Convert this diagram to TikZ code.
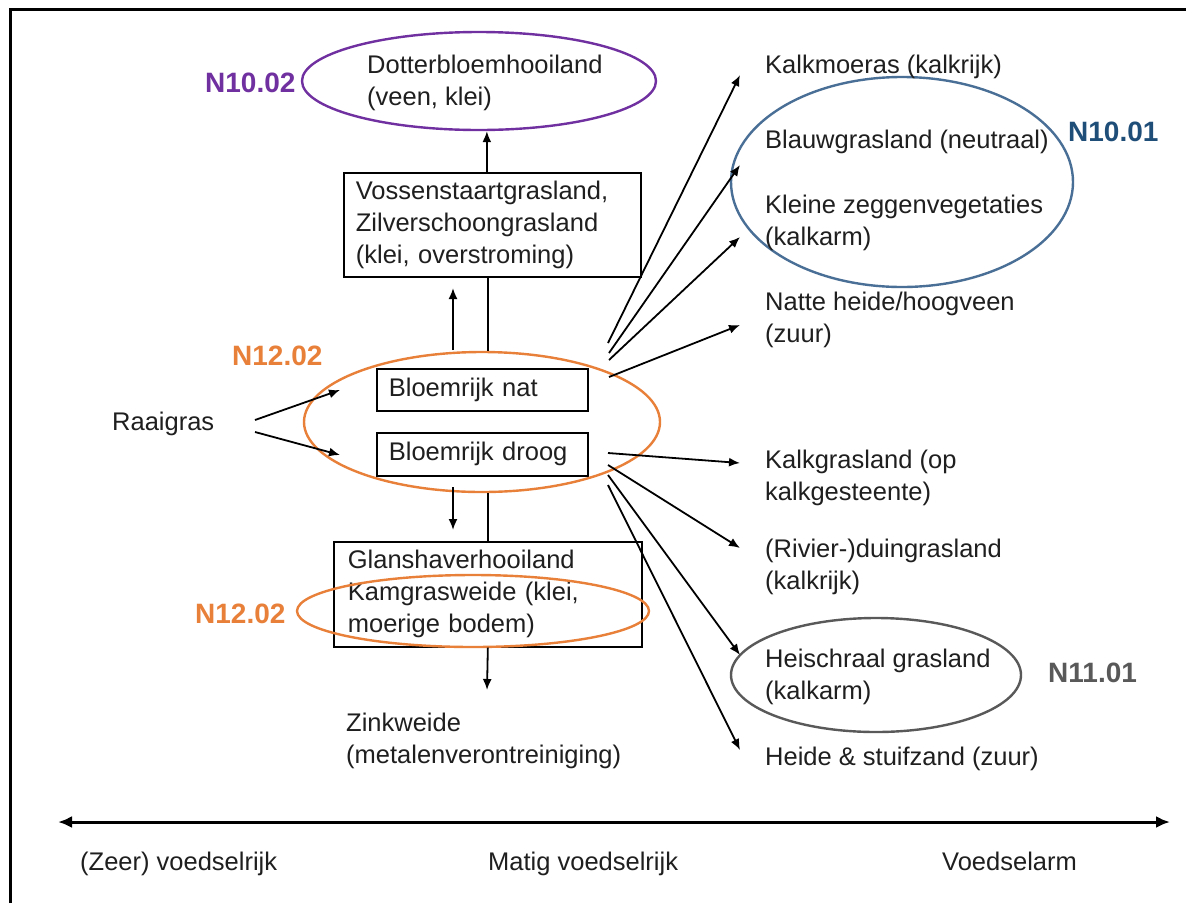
\documentclass[tikz,border=0pt]{standalone}
\usepackage{fontspec}
\setmainfont{Liberation Sans}
\usetikzlibrary{shapes.geometric,arrows.meta}
\definecolor{purp}{HTML}{7030A0}
\definecolor{oran}{HTML}{E8803A}
\definecolor{blu}{HTML}{4A6F96}
\definecolor{bluetext}{HTML}{1F4E79}
\definecolor{gry}{HTML}{595959}
\begin{document}
\begin{tikzpicture}[x=1pt,y=-1pt,
 every node/.style={font=\fontsize{25.5pt}{32pt}\selectfont, text=black!88},
 lbl/.style={anchor=west, inner sep=0pt, align=left},
 tag/.style={anchor=west, inner sep=0pt, font=\fontsize{28pt}{32pt}\selectfont\bfseries},
 boxnode/.style={draw, line width=1.7pt, anchor=north west, inner xsep=12pt, inner ysep=0pt, align=left},
 ring/.style={ellipse, draw, line width=2.4pt, inner sep=0pt},
 arr/.style={line width=1.8pt, -{Latex[length=11pt,width=9pt]}},
 ln/.style={line width=1.8pt},
 axisline/.style={line width=3pt, {Latex[length=14pt,width=12pt]}-{Latex[length=14pt,width=12pt]}}
]
\useasboundingbox (0,0) rectangle (1186,903);
\fill[white] (0,0) rectangle (1186,903);
% frame
\draw[line width=3pt] (10,903) -- (10,9) -- (1186,9);

% boxes
\node[boxnode, text width=273pt, minimum height=104pt] (vos) at (343,172)
  {Vossenstaartgrasland,\\Zilverschoongrasland\\(klei, overstroming)};
\node[boxnode, text width=187pt, minimum height=42pt] (nat) at (376,368) {Bloemrijk nat};
\node[boxnode, text width=187pt, minimum height=43pt] (droog) at (376,432) {Bloemrijk droog};
\node[boxnode, inner xsep=14pt, text width=280pt, minimum height=105pt] (glans) at (333,541)
  {Glanshaverhooiland\\Kamgrasweide (klei,\\moerige bodem)};

% ellipses
\node[ring, draw=purp, minimum width=354pt, minimum height=98pt] (dot) at (479,81) {};
\node[ring, draw=oran, minimum width=356pt, minimum height=140pt] (n12a) at (482,422) {};
\node[ring, draw=oran, minimum width=352pt, minimum height=72pt] (n12b) at (473,611) {};
\node[ring, draw=blu, minimum width=342pt, minimum height=210pt] (n1001) at (902,182) {};
\node[ring, draw=gry, minimum width=290pt, minimum height=114pt] (n1101) at (876,675) {};

% text labels
\node[lbl] (dottxt) at (367,83) {Dotterbloemhooiland\\(veen, klei)};
\node[lbl] (kalkm) at (765,67) {Kalkmoeras (kalkrijk)};
\node[lbl] (blauw) at (765,142) {Blauwgrasland (neutraal)};
\node[lbl] (kleine) at (765,223) {Kleine zeggenvegetaties\\(kalkarm)};
\node[lbl] (natte) at (765,320) {Natte heide/hoogveen\\(zuur)};
\node[lbl] (kalkg) at (765,478) {Kalkgrasland (op\\kalkgesteente)};
\node[lbl] (rivier) at (765,567) {(Rivier-)duingrasland\\(kalkrijk)};
\node[lbl] (heisch) at (765,677) {Heischraal grasland\\(kalkarm)};
\node[lbl] (heide) at (765,759) {Heide \& stuifzand (zuur)};
\node[lbl] (raai) at (112,424) {Raaigras};
\node[lbl] (zink) at (346,741) {Zinkweide\\(metalenverontreiniging)};
\node[lbl] (zeer) at (80,864) {(Zeer) voedselrijk};
\node[lbl] (matig) at (488,864) {Matig voedselrijk};
\node[lbl] (arm) at (942,861) {Voedselarm};

% tags
\node[tag, text=purp] (t1) at (205,83) {N10.02};
\node[tag, text=oran] (t2) at (232,356) {N12.02};
\node[tag, text=oran] (t3) at (195,614) {N12.02};
\node[tag, text=bluetext] (t4) at (1068,132) {N10.01};
\node[tag, text=gry] (t5) at (1048,673) {N11.01};

% vertical connectors
\draw[arr] ([xshift=-5.5pt]vos.north) -- ([xshift=-5.5pt]vos.north |- dot.south);
\draw[ln] ([xshift=-4.5pt]vos.south) -- ([xshift=-4.5pt]vos.south |- n12a.north);
\coordinate (u1) at (453,350);
\coordinate (u1t) at (453,288);
\draw[arr] (u1) -- (u1t);
\coordinate (d1) at (453,487);
\coordinate (d1t) at (453,530);
\draw[arr] (d1) -- (d1t);
\draw[ln] (glans.north |- n12a.south) -- (glans.north);
\coordinate (zt) at (487,690);
\draw[arr] (glans.south) -- (zt);

% Raaigras arrows
\coordinate (r1) at (255,420);
\coordinate (r2) at (255,432);
\coordinate (r1t) at (340,390);
\coordinate (r2t) at (340,455);
\draw[arr] (r1) -- (r1t);
\draw[arr] (r2) -- (r2t);

% upper fan
\coordinate (s1) at (608,343);
\coordinate (s2) at (609,353);
\coordinate (s3) at (609,360);
\coordinate (s4) at (609,377);
\coordinate (e1) at (740,75);
\coordinate (e2) at (740,165);
\coordinate (e3) at (740,237);
\coordinate (e4) at (740,325);
\draw[arr] (s1) -- (e1);
\draw[arr] (s2) -- (e2);
\draw[arr] (s3) -- (e3);
\draw[arr] (s4) -- (e4);

% lower fan
\coordinate (s5) at (608,453);
\coordinate (s6) at (608,465);
\coordinate (s7) at (608,475);
\coordinate (s8) at (608,485);
\coordinate (e5) at (740,463);
\coordinate (e6) at (740,548);
\coordinate (e7) at (740,655);
\coordinate (e8) at (740,750);
\draw[arr] (s5) -- (e5);
\draw[arr] (s6) -- (e6);
\draw[arr] (s7) -- (e7);
\draw[arr] (s8) -- (e8);

% axis
\coordinate (axl) at (58,822);
\coordinate (axr) at (1170,822);
\draw[axisline] (axl) -- (axr);
\end{tikzpicture}
\end{document}
